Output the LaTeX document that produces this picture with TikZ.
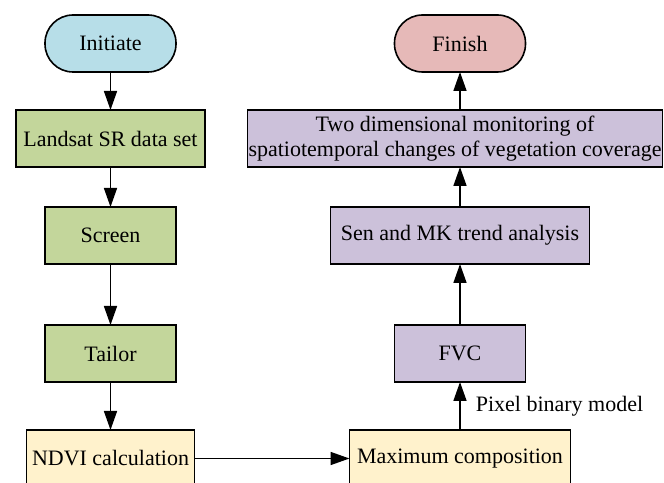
\documentclass[tikz,border=0pt]{standalone}
\usepackage{fontspec}
\setmainfont{Liberation Serif}
\usetikzlibrary{positioning,arrows.meta}
\definecolor{startblue}{HTML}{B7DEE8}
\definecolor{stepgreen}{HTML}{C3D69B}
\definecolor{calcyellow}{HTML}{FFF2CC}
\definecolor{resultpurple}{HTML}{CCC1DA}
\definecolor{endpink}{HTML}{E6B9B8}

\begin{document}
\begin{tikzpicture}[
    x=1pt, y=1pt,
    block/.style={
        draw,
        line width=1.6pt,
        align=center,
        inner sep=0pt,
        outer sep=0pt,
        minimum height=57pt,
        font=\fontsize{22}{25}\selectfont
    },
    term/.style={block, rounded corners=28pt, minimum width=131pt},
    line/.style={-{Triangle[length=19pt,width=13pt]}, line width=1.6pt}
]
\useasboundingbox (0,0) rectangle (664,482);
\clip (0,0) rectangle (664,482);

\node[term, fill=startblue] (init) at (110.5,438.5) {Initiate};
\node[block, fill=stepgreen, minimum width=189pt, below=38pt of init] (landsat) {Landsat SR data set};
\node[block, fill=stepgreen, minimum width=131pt, below=40pt of landsat] (screen) {Screen};
\node[block, fill=stepgreen, minimum width=131pt, below=61pt of screen] (tailor) {Tailor};
\node[block, fill=calcyellow, minimum width=168pt, below=48pt of tailor] (ndvi) {NDVI calculation};

\node[block, fill=calcyellow, minimum width=221pt, right=155pt of ndvi] (maxcomp) {Maximum composition};
\node[block, fill=resultpurple, minimum width=131pt, above=48pt of maxcomp] (fvc) {FVC};
\node[block, fill=resultpurple, minimum width=259pt, above=61pt of fvc] (trend) {Sen and MK trend analysis};
\node[block, fill=resultpurple, minimum width=415pt, above=40pt of trend, xshift=-5pt] (monitor) {Two dimensional monitoring of\\spatiotemporal changes of vegetation coverage};
\node[term, fill=endpink, above=38pt of monitor, xshift=5pt] (finish) {Finish};

\draw[line] (init) -- (landsat);
\draw[line] (landsat) -- (screen);
\draw[line] (screen) -- (tailor);
\draw[line] (tailor) -- (ndvi);
\draw[line] (ndvi) -- (maxcomp);
\draw[line] (maxcomp) -- node[right=15pt, inner sep=0pt, font=\fontsize{22}{25}\selectfont] (pbm) {Pixel binary model} (fvc);
\draw[line] (fvc) -- (trend);
\draw[line] (trend) -- (trend |- monitor.south);
\draw[line] (finish |- monitor.north) -- (finish);

\end{tikzpicture}
\end{document}
